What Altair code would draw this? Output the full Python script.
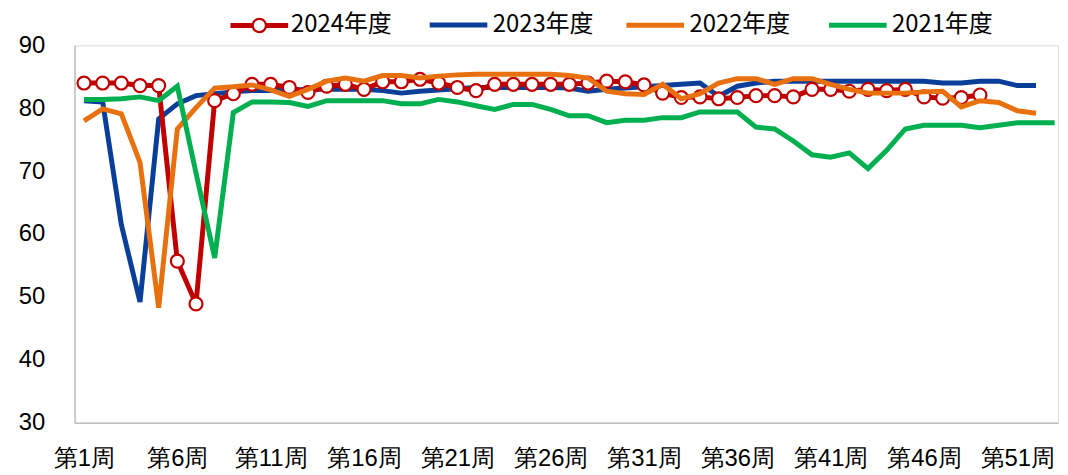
import altair as alt
import pandas as pd

FONT = "Noto Sans CJK SC"
RED = "#C00000"
BLUE = "#0A3F99"
ORANGE = "#E8700F"
GREEN = "#00B050"

weeks = list(range(1, 54))
series_names = ["2024年度", "2023年度", "2022年度", "2021年度"]

v2024 = [84.0, 84.0, 84.0, 83.6, 83.6, 55.7, 48.9, 81.2, 82.3, 83.8,
         83.8, 83.3, 82.5, 83.5, 83.8, 83.0, 84.2, 84.2, 84.6, 84.0,
         83.3, 82.8, 83.8, 83.8, 83.8, 83.8, 83.8, 84.0, 84.3, 84.2,
         83.7, 82.4, 81.7, 81.8, 81.5, 81.7, 82.0, 82.0, 81.8, 83.0,
         83.0, 82.7, 83.0, 82.8, 83.0, 81.8, 81.6, 81.7, 82.1]
v2023 = [81.2, 81.0, 61.5, 49.2, 78.3, 80.7, 82.0, 82.3, 82.6, 82.8,
         82.8, 82.8, 83.0, 83.0, 83.0, 83.0, 82.8, 82.4, 82.7, 82.9,
         83.1, 83.3, 83.3, 83.3, 83.3, 83.3, 83.2, 82.7, 83.0, 83.2,
         83.4, 83.6, 83.8, 84.0, 81.9, 83.5, 84.0, 84.3, 84.3, 84.3,
         84.3, 84.3, 84.3, 84.3, 84.3, 84.3, 84.0, 84.0, 84.3, 84.3,
         83.6, 83.6]
v2022 = [78.0, 79.9, 79.1, 71.4, 48.3, 76.7, 80.1, 83.2, 83.4, 83.7,
         82.9, 81.9, 83.0, 84.3, 84.8, 84.3, 85.2, 85.2, 84.8, 85.1,
         85.3, 85.4, 85.4, 85.4, 85.4, 85.4, 85.2, 84.8, 82.7, 82.3,
         82.2, 83.8, 81.5, 82.3, 84.0, 84.7, 84.7, 83.8, 84.7, 84.7,
         83.8, 83.0, 82.4, 82.4, 82.4, 82.6, 82.7, 80.2, 81.2, 80.9,
         79.6, 79.2]
v2021 = [81.4, 81.4, 81.5, 81.8, 81.2, 83.5, 69.7, 56.2, 79.3, 81.0,
         81.0, 80.9, 80.3, 81.2, 81.2, 81.2, 81.2, 80.7, 80.7, 81.4,
         81.0, 80.4, 79.8, 80.6, 80.6, 79.8, 78.8, 78.8, 77.7, 78.1,
         78.1, 78.5, 78.5, 79.4, 79.4, 79.4, 77.0, 76.7, 74.8, 72.6,
         72.2, 72.9, 70.4, 73.3, 76.7, 77.3, 77.3, 77.3, 76.9, 77.3,
         77.7, 77.7, 77.7]

x_ticks = [1, 6, 11, 16, 21, 26, 31, 36, 41, 46, 51]
y_ticks = [30, 40, 50, 60, 70, 80, 90]

rows = []
for name, vals in zip(series_names, [v2024, v2023, v2022, v2021]):
    for w, v in zip(weeks, vals):
        rows.append({"week": w, "value": v, "series": name})
df = pd.DataFrame(rows)

x_enc = alt.X(
    "week:Q",
    scale=alt.Scale(domain=[0.494, 53.18], nice=False, zero=False),
    axis=alt.Axis(values=x_ticks, labelExpr="'第' + datum.value + '周'",
                  grid=False, ticks=False, tickSize=0, domainColor="#BFBFBF",
                  domainWidth=1.5, labelFontSize=24, labelPadding=24,
                  labelFlush=False, labelOverlap=False, title=None),
)
y_enc = alt.Y(
    "value:Q",
    scale=alt.Scale(domain=[30, 90], nice=False, zero=False),
    axis=alt.Axis(values=y_ticks, grid=False, ticks=False, tickSize=0,
                  domainColor="#BFBFBF", domainWidth=1.5, labelFontSize=24,
                  labelPadding=30, title=None),
)

base = alt.Chart(df)

legend_common = dict(orient="none", title=None, labelFont=FONT, labelFontSize=24,
                     labelColor="#000000", labelOffset=3, symbolSize=3364)

blue = base.transform_filter(alt.datum.series == "2023年度").mark_line(
    strokeWidth=5).encode(
    x=x_enc, y=y_enc,
    color=alt.Color("series:N", scale=alt.Scale(domain=["2023年度"], range=[BLUE]),
                    legend=alt.Legend(legendX=355, legendY=-52, symbolType="stroke",
                                      symbolStrokeWidth=5, **legend_common)),
)

ring_path = ("M-1,-0.085H-0.25V0.085H-1Z M0.25,-0.085H1V0.085H0.25Z "
             "M0.27,0A0.27,0.27,0,1,1,-0.27,0A0.27,0.27,0,1,1,0.27,0Z "
             "M0.19,0A0.19,0.19,0,1,0,-0.19,0A0.19,0.19,0,1,0,0.19,0Z")

red_line = base.transform_filter(alt.datum.series == "2024年度").mark_line(
    strokeWidth=5).encode(
    x=x_enc, y=y_enc,
    color=alt.Color("series:N", scale=alt.Scale(domain=["2024年度"], range=[RED]),
                    legend=alt.Legend(legendX=157, legendY=-49, symbolType=ring_path,
                                      symbolFillColor=RED, symbolStrokeWidth=0,
                                      **legend_common)),
)
red_pts = base.transform_filter(alt.datum.series == "2024年度").mark_circle(
    size=170, fill="white", stroke=RED, strokeWidth=2.2, opacity=1).encode(
    x=x_enc, y=y_enc,
)

og = base.transform_filter(
    (alt.datum.series == "2022年度") | (alt.datum.series == "2021年度")
).mark_line(strokeWidth=5).encode(
    x=x_enc, y=y_enc,
    color=alt.Color("series:N",
                    scale=alt.Scale(domain=["2022年度", "2021年度"], range=[ORANGE, GREEN]),
                    legend=alt.Legend(legendX=553, legendY=-52, symbolType="stroke",
                                      symbolStrokeWidth=5, direction="horizontal",
                                      columnPadding=28, **legend_common)),
)

chart = alt.layer(blue, red_line, red_pts, og).resolve_scale(
    color="independent"
).properties(
    width=990, height=380,
    padding={"left": 67, "top": 36, "right": 2, "bottom": 50},
    autosize=alt.AutoSizeParams(type="none"),
).configure_view(stroke=None).configure_axis(
    labelFont=FONT, labelColor="#000000"
).configure(background="white")

chart.save("out.html", embed_options={"renderer": "svg", "actions": False})
